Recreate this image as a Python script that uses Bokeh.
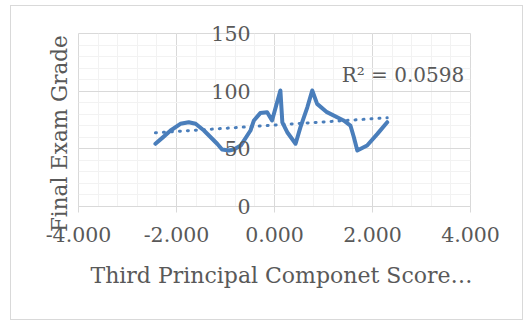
from bokeh.plotting import figure
from bokeh.models import (Label, SingleIntervalTicker, FixedTicker, LinearAxis,
                          NumeralTickFormatter, Range1d)
from bokeh.embed import file_html
from bokeh.resources import INLINE

# ---- data ----
line_x = [-2.43, -2.29, -2.12, -1.92, -1.75, -1.61, -1.44, -1.17, -1.07, -0.93, -0.83, -0.69,
          -0.49, -0.42, -0.29, -0.15, -0.05, 0.12, 0.16, 0.26, 0.43, 0.53, 0.67, 0.77, 0.87,
          1.07, 1.41, 1.55, 1.62, 1.69, 1.89, 2.10, 2.30]
line_y = [54.4, 59.5, 65.9, 71.7, 73.1, 71.7, 65.9, 54.4, 49.4, 48.5, 49.4, 52.8,
          65.9, 74.6, 81.0, 81.8, 74.6, 100.6, 73.0, 64.4, 54.4, 68.8, 86.0, 100.6, 89.0,
          81.8, 74.6, 70.2, 60.0, 48.6, 52.9, 63.0, 73.1]
trend_x = [-2.43, 2.30]
trend_y = [63.9, 76.9]
r2_text = "R² = 0.0598"
y_ticks = [0, 50, 100, 150]
x_title = "Third Principal Componet Score…"
y_title = "Final Exam Grade"

FONT = "DejaVu Serif"
TXT = "#595959"
BLUE = "#4A7EBB"
GRID = "#d9d9d9"
NB = "\u00a0"

p = figure(width=513, height=315, output_backend="svg", toolbar_location=None,
           x_range=Range1d(-4, 4), y_range=Range1d(0, 150), y_axis_location=None,
           min_border_left=67, min_border_right=54, min_border_top=27, min_border_bottom=115,
           margin=(5, 0, 0, 10))
p.styles = {"border": "1px solid #d9d9d9"}
p.background_fill_color = "white"
p.border_fill_color = "white"
p.outline_line_color = GRID

xt = SingleIntervalTicker(interval=2, num_minor_ticks=5)
yt = SingleIntervalTicker(interval=50, num_minor_ticks=5)
p.xaxis.ticker = xt
p.xgrid.ticker = xt
p.ygrid.ticker = yt
for g in (p.xgrid, p.ygrid):
    g.grid_line_color = GRID
    g.grid_line_width = 1
    g.minor_grid_line_color = "#f2f2f2"
    g.minor_grid_line_width = 1

ax = p.xaxis[0]
ax.formatter = NumeralTickFormatter(format="0.000")
ax.axis_line_color = GRID
ax.major_tick_line_color = GRID
ax.major_tick_out = 6
ax.major_tick_in = 0
ax.minor_tick_line_color = None
ax.major_label_standoff = 14
ax.major_label_text_font = FONT
ax.major_label_text_font_size = "20.5px"
ax.major_label_text_color = TXT
ax.axis_label = NB * 2 + x_title
ax.axis_label_standoff = 18
ax.axis_label_text_font = FONT
ax.axis_label_text_font_size = "22px"
ax.axis_label_text_font_style = "normal"
ax.axis_label_text_color = TXT

# value labels at the axis crossing (x = 0): drawn by a left axis pulled into the plot area
yb = LinearAxis(ticker=FixedTicker(ticks=y_ticks),
                axis_line_color=None, major_tick_line_color=None, minor_tick_line_color=None,
                major_tick_out=0, major_tick_in=0,
                major_label_standoff=-172, major_label_text_font=FONT,
                major_label_text_font_size="20.5px", major_label_text_color=TXT)
p.add_layout(yb, "left")

# left axis carrying only the title (NBSP padding shifts it down like the reference)
ya = LinearAxis(ticker=FixedTicker(ticks=[]),
                axis_label=y_title + NB * 4, axis_label_standoff=7,
                axis_label_text_font=FONT, axis_label_text_font_size="21.5px",
                axis_label_text_font_style="normal", axis_label_text_color=TXT,
                axis_line_color=None, major_tick_line_color=None, minor_tick_line_color=None,
                major_tick_out=0, major_tick_in=0)
p.add_layout(ya, "left")

# series line
p.line(line_x, line_y, line_color=BLUE, line_width=4, line_join="round", line_cap="round")
# linear trendline
p.line(trend_x, trend_y, line_color=BLUE, line_width=3, line_dash="1 7", line_cap="round")

p.add_layout(Label(x=1.37, y=113.6, text=r2_text, text_align="left", text_baseline="middle",
                   text_font=FONT, text_font_size="20px", text_color=TXT))

open("out.html", "w").write(file_html(p, INLINE))
